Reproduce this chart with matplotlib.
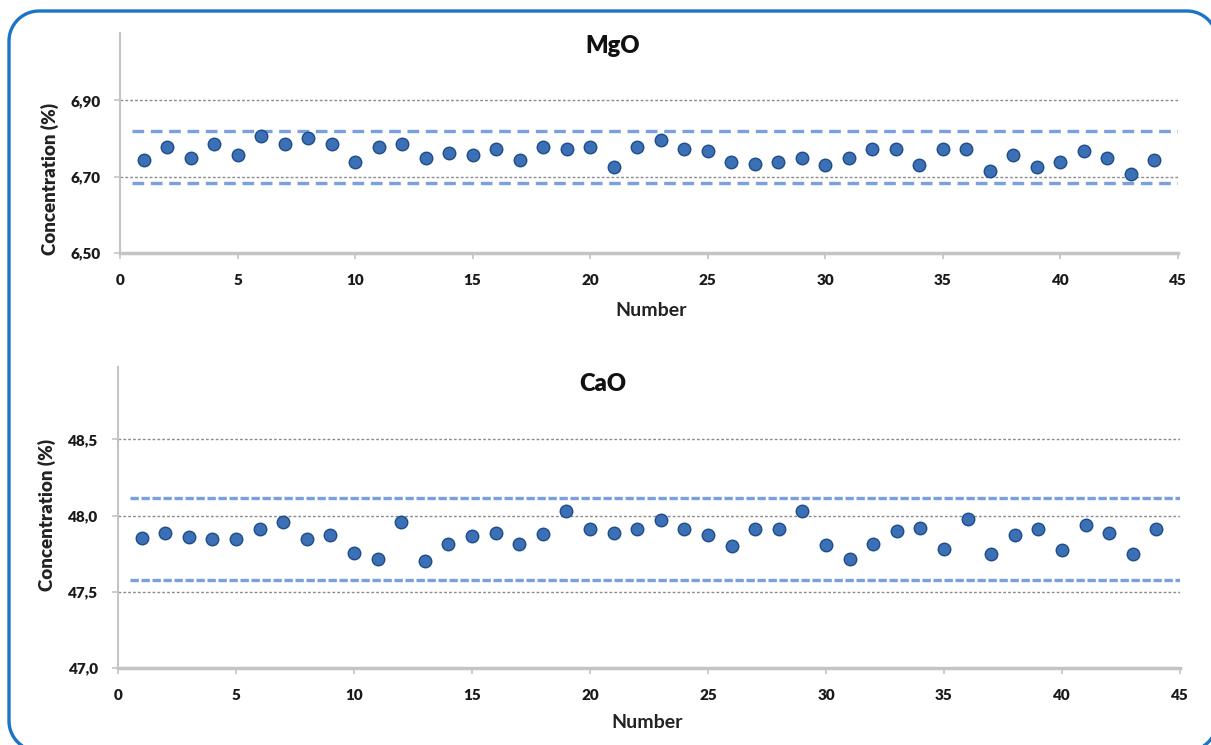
import matplotlib.pyplot as plt
from matplotlib.patches import PathPatch
from matplotlib.path import Path
from matplotlib.ticker import FuncFormatter
from matplotlib.transforms import IdentityTransform
import numpy as np

plt.rcParams['font.family'] = ['Lato', 'DejaVu Sans']

# Sample numbers (x axis).
number = list(range(1, 45))

# MgO concentrations (%).
mgo = [6.744, 6.779, 6.750, 6.787, 6.756, 6.806, 6.785, 6.802, 6.785, 6.739,
       6.779, 6.787, 6.750, 6.761, 6.756, 6.773, 6.744, 6.779, 6.772, 6.779,
       6.726, 6.779, 6.796, 6.773, 6.767, 6.738, 6.734, 6.738, 6.750, 6.732,
       6.750, 6.772, 6.772, 6.732, 6.772, 6.772, 6.715, 6.756, 6.726, 6.738,
       6.767, 6.750, 6.706, 6.744]
mgo_limits = [6.684, 6.821]
mgo_grid = [6.70, 6.90]
mgo_ticks = [6.50, 6.70, 6.90]

# CaO concentrations (%).
cao = [47.856, 47.886, 47.860, 47.849, 47.849, 47.915, 47.958, 47.849, 47.875,
       47.757, 47.718, 47.958, 47.702, 47.812, 47.866, 47.886, 47.812, 47.877,
       48.030, 47.915, 47.886, 47.910, 47.969, 47.910, 47.871, 47.799, 47.915,
       47.915, 48.030, 47.810, 47.718, 47.816, 47.897, 47.921, 47.779, 47.980,
       47.746, 47.871, 47.915, 47.772, 47.941, 47.888, 47.746, 47.915]
cao_limits = [47.575, 48.118]
cao_grid = [47.5, 48.0, 48.5]
cao_ticks = [47.0, 47.5, 48.0, 48.5]

x_ticks = list(range(0, 46, 5))

W, H = 1211, 745
fig = plt.figure(figsize=(W / 100, H / 100), dpi=100)

BLUE_PT = '#3b70b6'
BLUE_EDGE = '#1d4c86'
LIMIT_BLUE = '#7aa0e0'
GRID_GRAY = '#8c8c8c'
AXIS_GRAY = '#c4c4c4'


def comma(decimals):
    return FuncFormatter(lambda v, p: f'{v:.{decimals}f}'.replace('.', ','))


def setup(ax, values, limits, grid, yticks, ylim, decimals, dash):
    for g in grid:
        ax.hlines(g, 0, 45, colors=GRID_GRAY, linestyles=(0, (2, 1.5)),
                  linewidth=1.0, zorder=1)
    ax.hlines(limits, 0.5, 45, colors=LIMIT_BLUE, linestyles=dash,
              linewidth=2.4, zorder=2)
    ax.plot(number, values, 'o', color=BLUE_PT, markeredgecolor=BLUE_EDGE,
            markeredgewidth=1.0, markersize=9, zorder=3)
    ax.set_xlim(0, 45)
    ax.set_ylim(*ylim)
    ax.set_xticks(x_ticks)
    ax.set_yticks(yticks)
    ax.yaxis.set_major_formatter(comma(decimals))
    for s in ('top', 'right'):
        ax.spines[s].set_visible(False)
    ax.spines['left'].set_color(AXIS_GRAY)
    ax.spines['left'].set_linewidth(1.5)
    ax.spines['bottom'].set_color(AXIS_GRAY)
    ax.spines['bottom'].set_linewidth(2.5)
    ax.tick_params(axis='both', colors=AXIS_GRAY, length=4, width=1.2,
                   labelcolor='#1a1a1a', labelsize=11)
    ax.tick_params(axis='y', pad=10)
    ax.tick_params(axis='x', pad=11)
    for lbl in ax.get_xticklabels() + ax.get_yticklabels():
        lbl.set_fontweight('heavy')


ax1 = fig.add_axes([120 / W, 1 - 253 / H, 1058 / W, 220 / H])
setup(ax1, mgo, mgo_limits, mgo_grid, mgo_ticks, (6.50, 7.077), 2, (0, (3.5, 2)))

ax2 = fig.add_axes([118 / W, 1 - 668 / H, 1062 / W, 301 / H])
setup(ax2, cao, cao_limits, cao_grid, cao_ticks, (47.0, 48.975), 1, (0, (2.5, 0.8)))

# Titles and axis labels placed like the original layout.
fig.text(613 / W, 1 - 46 / H, 'MgO', ha='center', va='center',
         fontsize=17, fontweight='heavy', color='#111111')
fig.text(603 / W, 1 - 384 / H, 'CaO', ha='center', va='center',
         fontsize=17, fontweight='heavy', color='#111111')
fig.text(651 / W, 1 - 310 / H, 'Number', ha='center', va='center',
         fontsize=14, fontweight='bold', color='#222222')
fig.text(647 / W, 1 - 722 / H, 'Number', ha='center', va='center',
         fontsize=14, fontweight='bold', color='#222222')
fig.text(50 / W, 1 - 179 / H, 'Concentration (%)', ha='center', va='center',
         rotation=90, fontsize=13.5, fontweight='heavy', color='#222222')
fig.text(47 / W, 1 - 515 / H, 'Concentration (%)', ha='center', va='center',
         rotation=90, fontsize=13.5, fontweight='heavy', color='#222222')


def frame_path(x0, y0, x1, y1, r):
    '''Rounded rectangle in pixels (origin top-left), as a Path.'''
    pts = []
    corners = [(x0 + r, y0 + r, 180, 270), (x1 - r, y0 + r, 270, 360),
               (x1 - r, y1 - r, 0, 90), (x0 + r, y1 - r, 90, 180)]
    for cx, cy, a0, a1 in corners:
        for a in np.radians(np.linspace(a0, a1, 20)):
            pts.append((cx + r * np.cos(a), cy + r * np.sin(a)))
    pts.append(pts[0])
    # Flip to display coords (origin bottom-left).
    return Path([(px, H - py) for px, py in pts])


# Blue frame, running off the right and bottom edges.
frame = PathPatch(frame_path(9, 11, 1217, 751, 30), fill=False,
                  edgecolor='#1b74c5', linewidth=2.4)
frame.set_transform(IdentityTransform())
fig.add_artist(frame)

fig.savefig('out.png', dpi=100)
